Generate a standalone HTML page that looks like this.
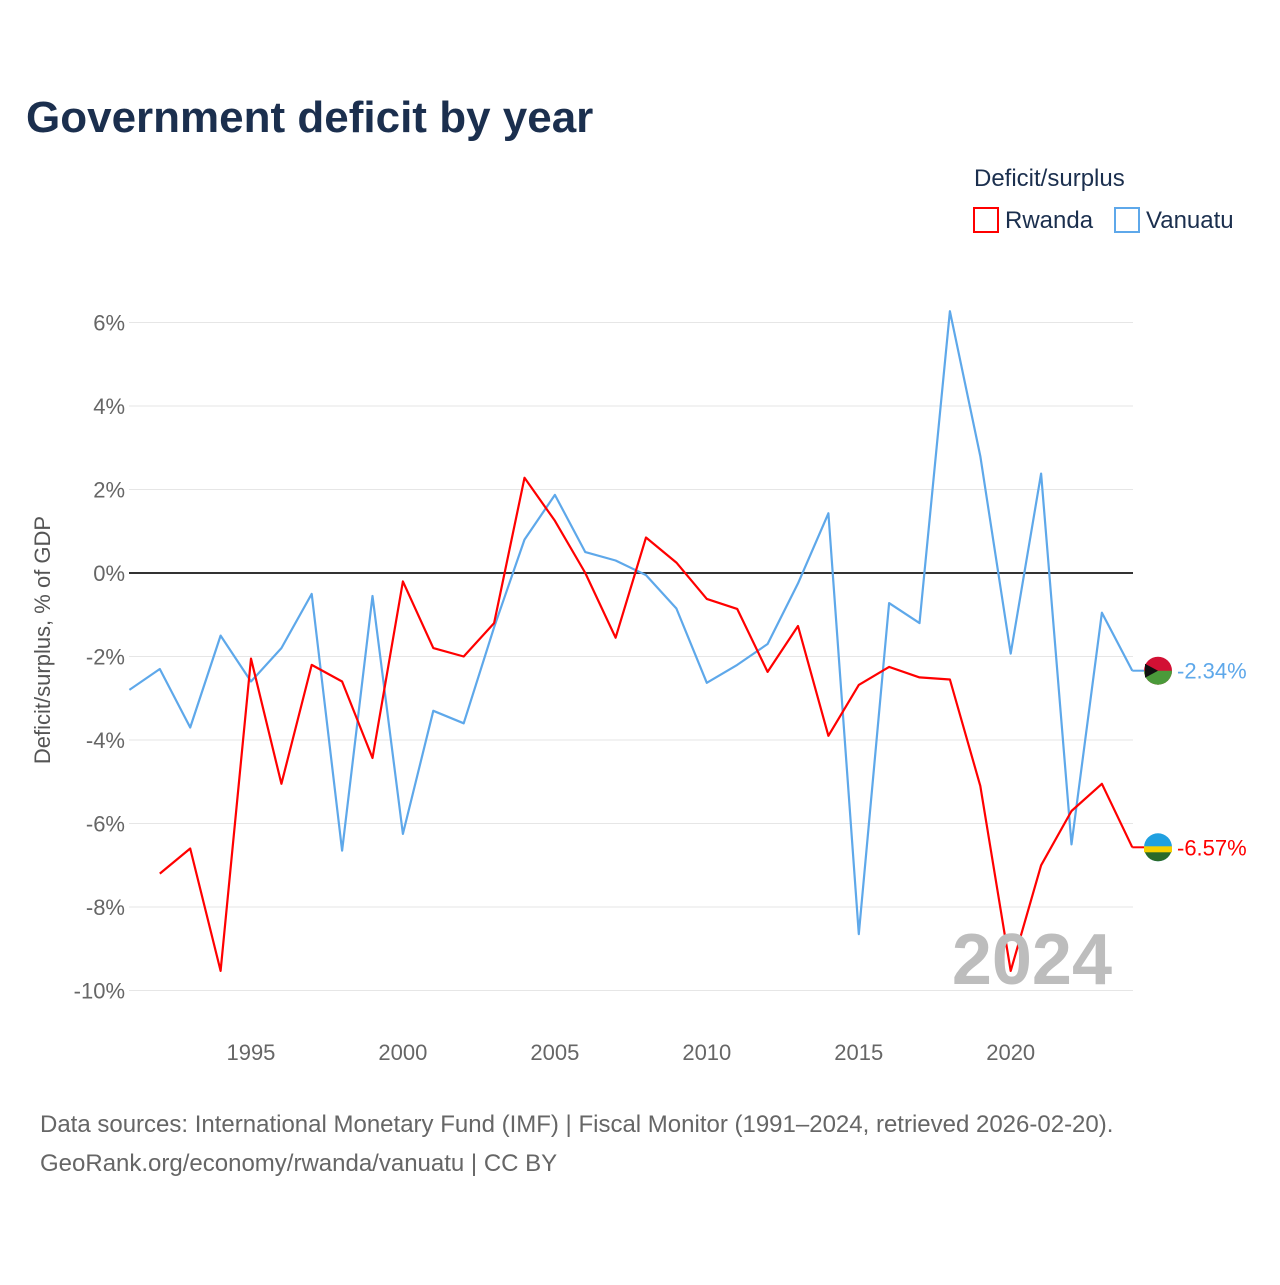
<!DOCTYPE html>
<html><head><meta charset="utf-8"><style>
body{margin:0;background:#fff;font-family:"Liberation Sans",sans-serif}
</style></head><body>
<svg id="c" width="1280" height="1280" xmlns="http://www.w3.org/2000/svg" font-family="Liberation Sans, sans-serif">
<text x="26" y="132" font-size="44" font-weight="bold" fill="#1b2f4e">Government deficit by year</text>
<text x="974" y="186" font-size="24" fill="#1b2f4e">Deficit/surplus</text>
<g><rect x="974" y="208" width="24" height="24" fill="none" stroke="red" stroke-width="2"/><text x="1005" y="228" font-size="24" fill="#1b2f4e">Rwanda</text></g>
<g><rect x="1115" y="208" width="24" height="24" fill="none" stroke="#5ea8ea" stroke-width="2"/><text x="1146" y="228" font-size="24" fill="#1b2f4e">Vanuatu</text></g>
<text transform="translate(50,640) rotate(-90)" text-anchor="middle" font-size="22" fill="#555">Deficit/surplus, % of GDP</text>
<g id="grid"></g><g id="series"></g>
<text x="1112" y="984" text-anchor="end" font-size="72" font-weight="bold" fill="#bdbdbd">2024</text>
<text x="40" y="1132" font-size="24" fill="#666">Data sources: International Monetary Fund (IMF) | Fiscal Monitor (1991–2024, retrieved 2026-02-20).</text>
<text x="40" y="1171" font-size="24" fill="#666">GeoRank.org/economy/rwanda/vanuatu | CC BY</text>
</svg>
<script>
const years=[];for(let y=1991;y<=2024;y++)years.push(y);
const vanuatu=[-2.8,-2.3,-3.7,-1.5,-2.6,-1.8,-0.5,-6.65,-0.55,-6.25,-3.3,-3.6,-1.3,0.8,1.87,0.5,0.3,-0.05,-0.85,-2.63,-2.2,-1.7,-0.25,1.43,-8.65,-0.72,-1.2,6.27,2.8,-1.93,2.38,-6.5,-0.95,-2.34];
const rwanda=[null,-7.2,-6.6,-9.53,-2.05,-5.05,-2.2,-2.6,-4.43,-0.2,-1.8,-2.0,-1.2,2.28,1.25,0,-1.55,0.85,0.25,-0.62,-0.86,-2.37,-1.27,-3.9,-2.68,-2.25,-2.5,-2.55,-5.1,-9.53,-7.0,-5.7,-5.05,-6.57];
const yTicks=[6,4,2,0,-2,-4,-6,-8,-10];
const xTicks=[1995,2000,2005,2010,2015,2020];
const X=y=>129.4+(y-1991)*30.39, Y=v=>573-v*41.75;
const ns="http://www.w3.org/2000/svg";
const mk=(t,a,p)=>{const e=document.createElementNS(ns,t);for(const k in a)e.setAttribute(k,a[k]);p.appendChild(e);return e;};
const g=document.getElementById('grid');
yTicks.forEach(v=>{
 const l=mk('line',{x1:129,x2:1133,y1:Y(v),y2:Y(v),stroke:v===0?'#333':'#e6e6e6','stroke-width':v===0?2:1},g);
 
 
 const t=mk('text',{x:125,y:Y(v)+8,'text-anchor':'end','font-size':22,fill:'#666'},g);t.textContent=v+'%';
 
 
});
xTicks.forEach(v=>{
 const t=mk('text',{x:X(v),y:1060,'text-anchor':'middle','font-size':22,fill:'#666'},g);t.textContent=v;
 
 
});
const s=document.getElementById('series');
function line(data,col,name){
 let d='';data.forEach((v,i)=>{if(v===null)return;d+=(d?'L':'M')+X(years[i]).toFixed(1)+','+Y(v).toFixed(1);});
 const p=mk('path',{d:d,fill:'none',stroke:col,'stroke-width':2.2,'stroke-linejoin':'round'},s);
 
 
 const last=data[data.length-1], ly=Y(last), lx=X(2024);
 mk('line',{x1:lx,x2:1146,y1:ly,y2:ly,stroke:col,'stroke-width':2},s);
 const c=mk('circle',{cx:1158,cy:ly,r:14,fill:name==='rwanda'?'#20a0e0':'#d21034'},s);
 
 
 mk('path',{d:`M1144,${ly} A14,14 0 0,0 1172,${ly} Z`,fill:name==='rwanda'?'#2a6a2a':'#4a9a3a'},s);
 if(name==='rwanda')mk('rect',{x:1144,y:ly-1,width:28,height:6,fill:'#f5d000'},s);
 else mk('path',{d:`M1145,${ly-7} L1158,${ly} L1145,${ly+7} Z`,fill:'#111'},s);
 const t=mk('text',{x:1177,y:ly+8,'font-size':22,fill:col},s);t.textContent=last.toFixed(2)+'%';
 
 
}
line(vanuatu,'#5ea8ea','vanuatu');
line(rwanda,'#ff0000','rwanda');
</script>
</body></html>
